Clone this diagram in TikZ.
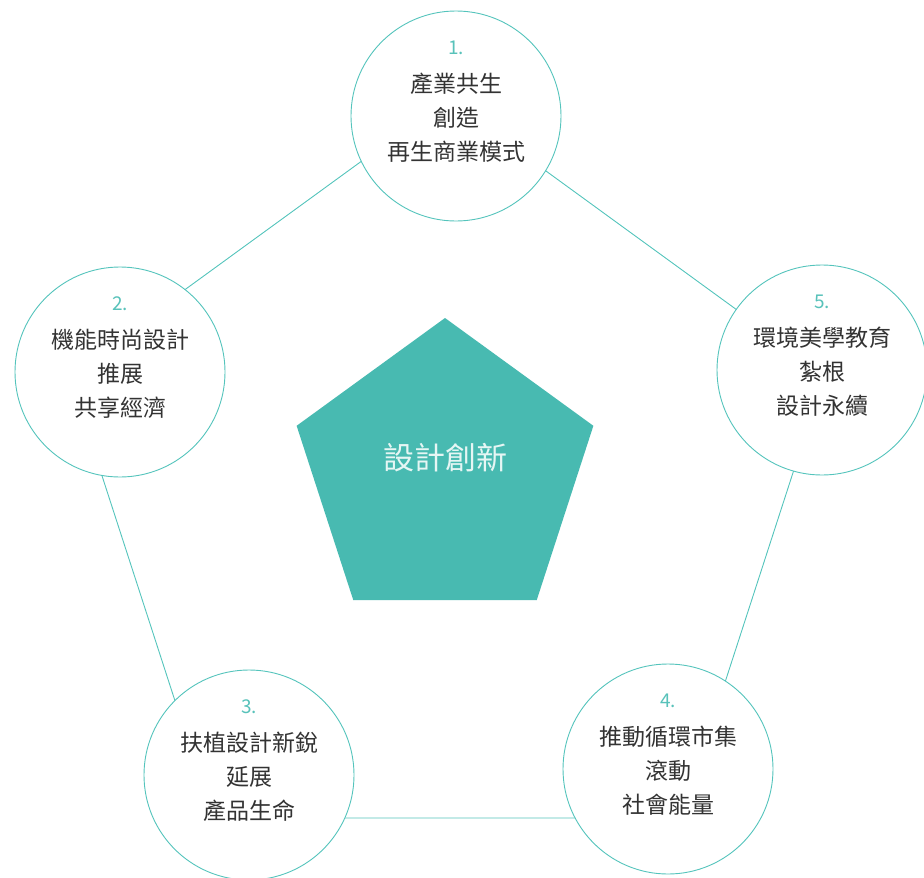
\documentclass[tikz,border=0pt]{standalone}
\usepackage{fontspec}
\usepackage{tikz}
\usetikzlibrary{shapes.geometric,positioning}
\newfontfamily\cjk{Noto Sans CJK TC}
\definecolor{dsteal}{RGB}{72,186,177}
\definecolor{dslineteal}{RGB}{84,196,188}
\definecolor{dsnum}{RGB}{88,194,186}
\definecolor{dsgray}{RGB}{51,51,51}
\definecolor{dspale}{RGB}{230,246,244}
\tikzstyle{link} = [draw=dslineteal, line width=0.9pt]
\tikzstyle{idea} = [circle, minimum size=210pt, inner sep=0pt, draw=dslineteal, line width=0.9pt, fill=white]
\tikzstyle{ideatext} = [align=center, text=dsgray, inner sep=0pt, font=\cjk\fontsize{23}{34}\selectfont]
\tikzstyle{core} = [regular polygon, regular polygon sides=5, minimum size=312pt, inner sep=0pt, fill=dsteal]
\tikzstyle{coretitle} = [text=dspale, font=\cjk\fontsize{31}{36}\selectfont]
\newcommand{\ideano}[1]{{\color{dsnum}\fontsize{19}{22}\selectfont #1}\\[4pt]}

\begin{document}
\begin{tikzpicture}[x=1pt, y=-1pt]
\useasboundingbox (0,0) rectangle (924,878);
% outer ring
\coordinate (v1) at (447,99);
\coordinate (v2) at (69,374);
\coordinate (v3) at (213,818);
\coordinate (v4) at (681,818);
\coordinate (v5) at (825,374);
\draw[link] (v1) -- (v2) -- (v3) -- (v4) -- (v5) -- cycle;

% centre
\node (core) [core] at (445,474) {};
\node (coretitle) [coretitle] at (445,458) {設計創新};

% five ideas
\node (p1) [idea, label={[ideatext, yshift=14pt]center:{\ideano{1.}產業共生\\創造\\再生商業模式}}] at (456,116) {};
\node (p2) [idea, label={[ideatext, yshift=14pt]center:{\ideano{2.}機能時尚設計\\推展\\共享經濟}}] at (120,372) {};
\node (p3) [idea, label={[ideatext, yshift=14pt]center:{\ideano{3.}扶植設計新銳\\延展\\產品生命}}] at (249,775) {};
\node (p4) [idea, label={[ideatext, yshift=14pt]center:{\ideano{4.}推動循環市集\\滾動\\社會能量}}] at (668,769) {};
\node (p5) [idea, label={[ideatext, yshift=14pt]center:{\ideano{5.}環境美學教育\\紮根\\設計永續}}] at (822,370) {};
\end{tikzpicture}
\end{document}
